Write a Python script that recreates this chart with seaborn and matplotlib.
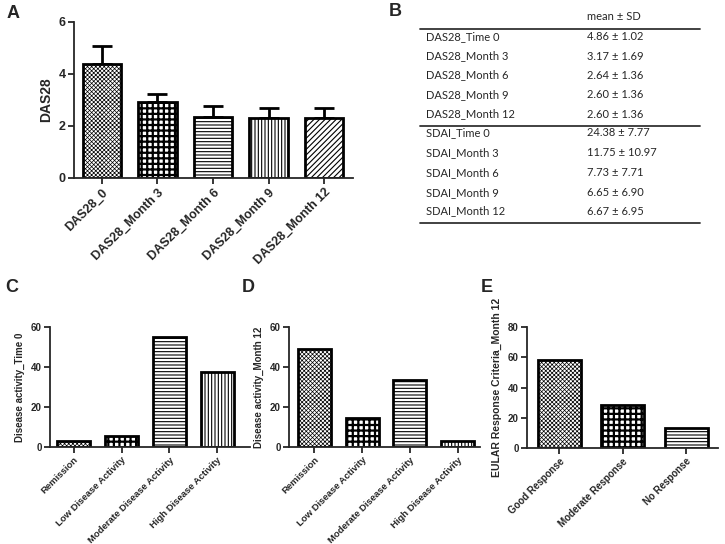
import numpy as np
import pandas as pd
import seaborn as sns
import matplotlib.pyplot as plt
from matplotlib.lines import Line2D

# Panel A: DAS28 over time (mean with upper SD bar)
a_labels = ['DAS28_0', 'DAS28_Month 3', 'DAS28_Month 6', 'DAS28_Month 9', 'DAS28_Month 12']
a_mean = [4.40, 2.93, 2.35, 2.32, 2.32]
a_err = [0.68, 0.32, 0.42, 0.39, 0.39]

# Panel B: table
b_rows = ['DAS28_Time 0', 'DAS28_Month 3', 'DAS28_Month 6', 'DAS28_Month 9', 'DAS28_Month 12',
          'SDAI_Time 0', 'SDAI_Month 3', 'SDAI_Month 6', 'SDAI_Month 9', 'SDAI_Month 12']
b_values = ['4.86 ± 1.02', '3.17 ± 1.69', '2.64 ± 1.36', '2.60 ± 1.36', '2.60 ± 1.36',
            '24.38 ± 7.77', '11.75 ± 10.97', '7.73 ± 7.71', '6.65 ± 6.90', '6.67 ± 6.95']

# Panels C and D: disease activity
cd_labels = ['Remission', 'Low Disease Activity', 'Moderate Disease Activity', 'High Disease Activity']
c_values = [3.2, 5.5, 55, 37.5]
d_values = [49, 14.5, 33.5, 3.2]

# Panel E: EULAR response
e_labels = ['Good Response', 'Moderate Response', 'No Response']
e_values = [58.5, 28.5, 13]

sns.set_style('ticks')
plt.rcParams['font.family'] = ['Liberation Sans', 'DejaVu Sans']
plt.rcParams['hatch.linewidth'] = 0.8

W, H = 725, 544
fig = plt.figure(figsize=(7.25, 5.44), dpi=100)


def px_axes(l, t, r, b):
    return fig.add_axes([l / W, 1 - b / H, (r - l) / W, (b - t) / H])


# fine stipple, checker-ish, horizontal, vertical, diagonal
hatch_set = ['xxxxxxxx', '+++', '-----', '|||||', '//////']
hatch_lw = [0.5, 1.6, 0.8, 0.8, 0.8]


def draw_bars(ax, labels, values, width, fs):
    df = pd.DataFrame({'cat': labels, 'val': values})
    sns.barplot(data=df, x='cat', y='val', color='white', width=width,
                edgecolor='black', linewidth=2, ax=ax)
    for p, h, lw in zip(ax.patches, hatch_set, hatch_lw):
        p.set_hatch(h)
        if hasattr(p, 'set_hatch_linewidth'):
            p.set_hatch_linewidth(lw)
    ax.set_xlabel('')
    for s in ['left', 'bottom']:
        ax.spines[s].set_linewidth(1.3)
    sns.despine(ax=ax)
    ax.tick_params(direction='out', length=4, width=1.3, labelsize=fs, pad=2)
    ax.tick_params(axis='y', labelsize=7 if fs < 9 else 9)
    plt.setp(ax.get_xticklabels(), rotation=45, ha='right', rotation_mode='anchor',
             fontweight='bold')
    plt.setp(ax.get_yticklabels(), fontweight='bold')


# A
axA = px_axes(74, 22, 353, 178)
draw_bars(axA, a_labels, a_mean, 0.69, 9)
axA.errorbar(x=np.arange(len(a_mean)), y=a_mean, yerr=[np.zeros(len(a_err)), a_err],
             fmt='none', ecolor='black', elinewidth=2, capsize=7, capthick=2, zorder=0.5)
axA.set_ylim(0, 6)
axA.set_yticks([0, 2, 4, 6])
axA.set_xlim(-0.5, 4.52)
axA.set_ylabel('DAS28', fontsize=10, fontweight='bold')

# C
axC = px_axes(50, 327, 250, 447)
draw_bars(axC, cd_labels, c_values, 0.69, 6.8)
axC.set_ylim(0, 60)
axC.set_yticks([0, 20, 40, 60])
axC.set_xlim(-0.5, 3.69)
axC.set_ylabel('Disease activity_Time 0', fontsize=7, fontweight='bold')

# D
axD = px_axes(289, 327, 480, 447)
draw_bars(axD, cd_labels, d_values, 0.69, 6.8)
axD.set_ylim(0, 60)
axD.set_yticks([0, 20, 40, 60])
axD.set_xlim(-0.53, 3.47)
axD.set_ylabel('Disease activity_Month 12', fontsize=7, fontweight='bold')

# E
axE = px_axes(527, 327, 718, 448)
draw_bars(axE, e_labels, e_values, 0.68, 7)
axE.set_ylim(0, 80)
axE.set_yticks([0, 20, 40, 60, 80])
axE.set_xlim(-0.51, 2.5)
axE.set_ylabel('EULAR Response Criteria_Month 12', fontsize=7.5, fontweight='bold')

# B: table drawn as figure text
tfont = ['Lato', 'DejaVu Sans']
fig.text(587 / W, 1 - 17 / H, 'mean ± SD', fontsize=8, family=tfont, va='center')
row_y = [37, 56, 75, 95, 114, 133, 153, 173, 193, 211]
for name, val, y in zip(b_rows, b_values, row_y):
    fig.text(426 / W, 1 - y / H, name, fontsize=8, family=tfont, va='center')
    fig.text(587 / W, 1 - y / H, val, fontsize=8, family=tfont, va='center')
for y in [29, 126, 223]:
    fig.add_artist(Line2D([420 / W, 700 / W], [1 - y / H, 1 - y / H], color='#333333', lw=1.3))

# panel letters
for letter, x, y in [('A', 13, 13), ('B', 395, 12), ('C', 12, 288), ('D', 248, 288), ('E', 487, 287)]:
    fig.text(x / W, 1 - y / H, letter, fontsize=13, fontweight='bold', ha='center', va='center')

fig.savefig('out.png', dpi=100)
